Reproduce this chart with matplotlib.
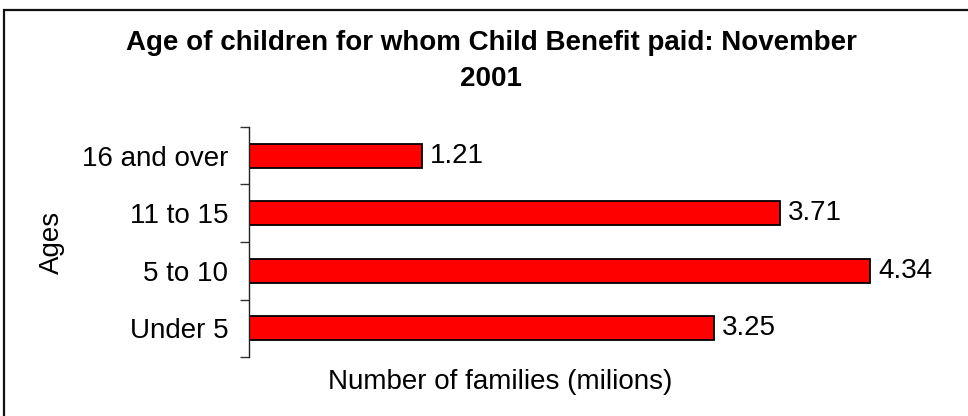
import numpy as np
import matplotlib.pyplot as plt
from matplotlib.patches import Rectangle

ages = ['Under 5', '5 to 10', '11 to 15', '16 and over']
families = [3.25, 4.34, 3.71, 1.21]
value_labels = ['3.25', '4.34', '3.71', '1.21']

plt.rcParams['font.family'] = ['Liberation Sans', 'DejaVu Sans']

W, H = 968, 416
fig = plt.figure(figsize=(W / 100, H / 100), dpi=100)

# outer chart frame, running off the right and bottom edges
fig.patches.append(Rectangle((4 / W, -0.05), 1.0, 1 - 10 / H + 0.05,
                             transform=fig.transFigure, fill=False,
                             edgecolor='#111111', linewidth=1.6))

ax = fig.add_axes([249 / W, 59 / H, 715 / W, 230 / H])
y = np.arange(len(ages))
ax.barh(y, families, height=0.42, color='#ff0000', edgecolor='black', linewidth=1.3)

for yi, v, s in zip(y, families, value_labels):
    ax.annotate(s, (v, yi), xytext=(6, 0), textcoords='offset points',
                va='center', ha='left', fontsize=20)

ax.set_xlim(0, 5)
ax.set_ylim(-0.5, len(ages) - 0.5)

# tick marks sit between categories, labels at bar centres
ax.set_yticks(np.arange(-0.5, len(ages), 1.0))
ax.set_yticklabels([])
ax.set_yticks(y, minor=True)
ax.set_yticklabels(ages, minor=True, fontsize=20)
ax.tick_params(axis='y', which='major', length=6.5, width=1, color='#333333')
ax.tick_params(axis='y', which='minor', length=0, pad=15)
ax.set_xticks([])

for side in ['top', 'right', 'bottom']:
    ax.spines[side].set_visible(False)
ax.spines['left'].set_linewidth(1)
ax.spines['left'].set_color('#222222')

fig.text(52 / W, 1 - 242 / H, 'Ages', rotation=90, ha='center', va='center', fontsize=20)
fig.text(500 / W, 1 - 382 / H, 'Number of families (milions)', ha='center', va='center', fontsize=20)
fig.text(491 / W, 1 - 30 / H, 'Age of children for whom Child Benefit paid: November\n2001',
         ha='center', va='top', fontsize=20, fontweight='bold', linespacing=1.5)

fig.savefig('out.png', dpi=100)
